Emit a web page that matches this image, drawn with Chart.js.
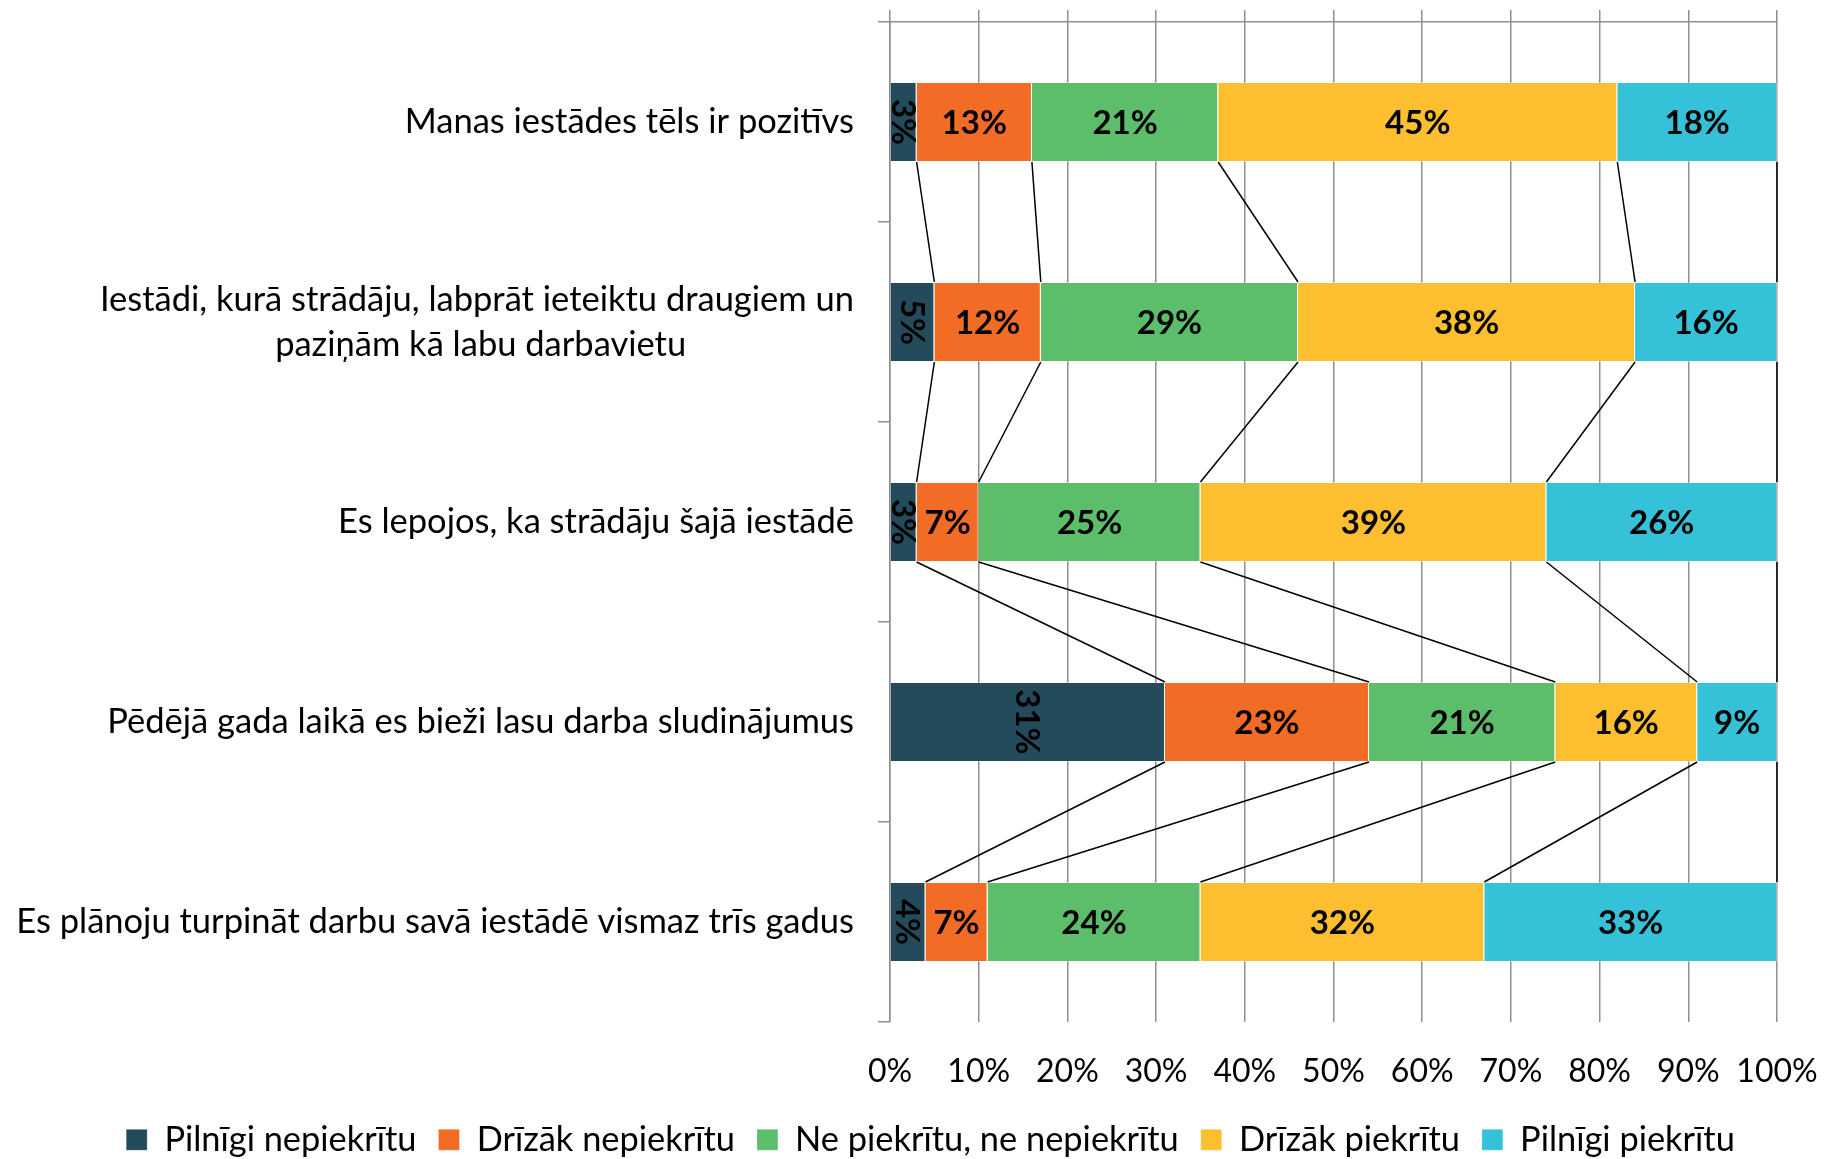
<!DOCTYPE html>
<html><head><meta charset="utf-8">
<script src="https://cdn.jsdelivr.net/npm/chart.js@4.4.1/dist/chart.umd.min.js"></script>
<style>html,body{margin:0;padding:0;background:#fff;}</style>
</head><body>
<canvas id="c" width="1827" height="1159"></canvas>
<script>
// ---- data ----
const categories = [
  'Manas iestādes tēls ir pozitīvs',
  ['Iestādi, kurā strādāju, labprāt ieteiktu draugiem un', 'paziņām kā labu darbavietu'],
  'Es lepojos, ka strādāju šajā iestādē',
  'Pēdējā gada laikā es bieži lasu darba sludinājumus',
  'Es plānoju turpināt darbu savā iestādē vismaz trīs gadus'
];
const seriesNames = ['Pilnīgi nepiekrītu', 'Drīzāk nepiekrītu', 'Ne piekrītu, ne nepiekrītu', 'Drīzāk piekrītu', 'Pilnīgi piekrītu'];
const pilnigiNepiekritu = [3, 5, 3, 31, 4];
const drizakNepiekritu = [13, 12, 7, 23, 7];
const nePiekrituNeNepiekritu = [21, 29, 25, 21, 24];
const drizakPiekritu = [45, 38, 39, 16, 32];
const pilnigiPiekritu = [18, 16, 26, 9, 33];
const xTickValues = [0, 10, 20, 30, 40, 50, 60, 70, 80, 90, 100];
const xTickLabels = ['0%', '10%', '20%', '30%', '40%', '50%', '60%', '70%', '80%', '90%', '100%'];

// ---- style ----
const colors = ['#234B5B', '#F36C25', '#5CBD6A', '#FDBF2F', '#35C2D8'];
const FONT = 'Lato';
const CAT_SIZE = 34.5;
const gridColor = '#8F8F8F';
const LEGEND_SHIFT = 42;

// center the 2nd line of the wrapped label under the 1st (pad with spaces)
(function () {
  const m = document.createElement('canvas').getContext('2d');
  m.font = CAT_SIZE + 'px ' + FONT;
  categories.forEach((c, i) => {
    if (Array.isArray(c) && c.length === 2) {
      const w1 = m.measureText(c[0]).width, w2 = m.measureText(c[1]).width;
      const sp = m.measureText(' ').width;
      const n = Math.max(0, Math.round((w1 - w2) / 2 / sp));
      categories[i] = [c[0], c[1] + ' '.repeat(n)];
    }
  });
})();

const seriesData = [pilnigiNepiekritu, drizakNepiekritu, nePiekrituNeNepiekritu, drizakPiekritu, pilnigiPiekritu];

const legendShift = {
  id: 'legendShift',
  afterLayout(chart) {
    const l = chart.legend;
    if (l) { l.left += LEGEND_SHIFT; l.right += LEGEND_SHIFT; }
  }
};

const seriesLines = {
  id: 'seriesLines',
  afterDatasetsDraw(chart) {
    const ctx = chart.ctx;
    ctx.save();
    ctx.strokeStyle = '#000';
    ctx.lineWidth = 1.5;
    chart.data.datasets.forEach((ds, di) => {
      const meta = chart.getDatasetMeta(di);
      for (let i = 0; i < meta.data.length - 1; i++) {
        const a = meta.data[i], b = meta.data[i + 1];
        ctx.beginPath();
        ctx.moveTo(a.x, a.y + a.height / 2);
        ctx.lineTo(b.x, b.y - b.height / 2);
        ctx.stroke();
      }
    });
    ctx.restore();
  }
};

const valueLabels = {
  id: 'valueLabels',
  afterDatasetsDraw(chart) {
    const ctx = chart.ctx;
    ctx.save();
    ctx.fillStyle = '#000';
    ctx.font = 'bold 33px ' + FONT;
    ctx.textAlign = 'center';
    ctx.textBaseline = 'middle';
    chart.data.datasets.forEach((ds, di) => {
      const meta = chart.getDatasetMeta(di);
      meta.data.forEach((el, i) => {
        const txt = ds.data[i] + '%';
        const cx = (el.x + el.base) / 2, cy = el.y;
        if (di === 0) {
          ctx.save();
          ctx.translate(cx, cy);
          ctx.rotate(Math.PI / 2);
          ctx.fillText(txt, 0, 1);
          ctx.restore();
        } else {
          ctx.fillText(txt, cx, cy + 1);
        }
      });
    });
    ctx.restore();
  }
};

new Chart(document.getElementById('c'), {
  type: 'bar',
  data: {
    labels: categories,
    datasets: seriesData.map((d, i) => ({
      label: seriesNames[i],
      data: d,
      backgroundColor: colors[i],
      borderColor: 'rgba(255,255,255,0.3)',
      borderWidth: 1,
      barPercentage: 0.4,
      categoryPercentage: 1.0
    }))
  },
  options: {
    indexAxis: 'y',
    responsive: false,
    animation: false,
    devicePixelRatio: 1,
    layout: { padding: { top: 10, right: 50, left: 0, bottom: -8 } },
    plugins: {
      tooltip: { enabled: false },
      legend: {
        position: 'bottom',
        labels: {
          boxWidth: 21, boxHeight: 21, padding: 22, color: '#000',
          font: { family: FONT, size: 34.4 }
        }
      }
    },
    scales: {
      x: {
        stacked: true, min: 0, max: 100, position: 'bottom',
        afterBuildTicks(s) { s.ticks = xTickValues.map(v => ({ value: v })); },
        afterFit(s) { s.height = 78.6; s.paddingLeft = 0; s.paddingRight = 0; },
        ticks: {
          callback: (v) => xTickLabels[xTickValues.indexOf(v)],
          color: '#000', padding: 30, maxRotation: 0,
          font: { family: FONT, size: 32 }
        },
        grid: { color: gridColor, lineWidth: 1.5, drawTicks: false },
        border: { display: false }
      },
      x2: {
        type: 'linear', min: 0, max: 100, position: 'top',
        afterBuildTicks(s) { s.ticks = xTickValues.map(v => ({ value: v })); },
        afterFit(s) { s.height = 12; s.paddingLeft = 0; s.paddingRight = 0; },
        ticks: { display: false },
        grid: { color: gridColor, lineWidth: 1.5, drawOnChartArea: false, drawTicks: true, tickLength: 12 },
        border: { display: true, color: gridColor, width: 1.5 }
      },
      y: {
        stacked: true, offset: true,
        afterFit(s) { s.width = 890; s.paddingTop = 0; s.paddingBottom = 0; },
        ticks: {
          color: '#000', padding: 24, crossAlign: 'near', autoSkip: false,
          font: { family: FONT, size: CAT_SIZE, lineHeight: 1.3 }
        },
        grid: { offset: true, color: gridColor, lineWidth: 1.5, drawOnChartArea: false, drawTicks: true, tickLength: 12 },
        border: { display: true, color: gridColor, width: 1.5 }
      }
    }
  },
  plugins: [legendShift, seriesLines, valueLabels]
});
</script>
</body></html>
